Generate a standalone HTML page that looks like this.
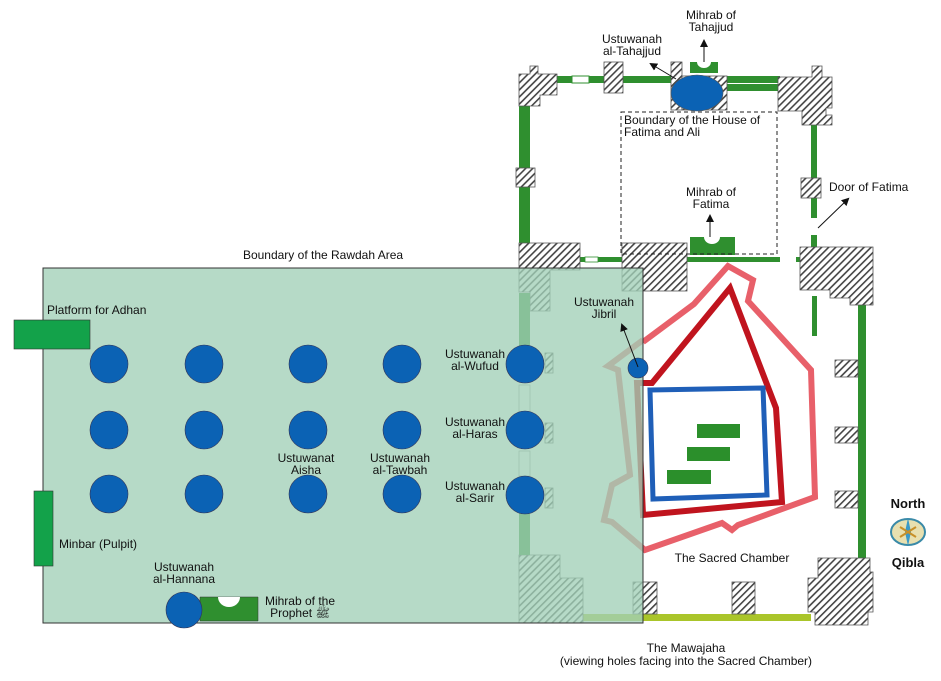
<!DOCTYPE html>
<html><head><meta charset="utf-8"><style>
html,body{margin:0;padding:0;background:#fff;}
svg{display:block;}
text{font-family:"Liberation Sans",sans-serif;font-size:12px;fill:#111;}
</style></head><body>
<svg width="941" height="681" viewBox="0 0 941 681" xmlns="http://www.w3.org/2000/svg">
<defs>
<pattern id="h" width="5" height="5" patternUnits="userSpaceOnUse" patternTransform="rotate(45)">
<rect width="5" height="5" fill="#fff"/><rect width="1.6" height="5" fill="#444"/>
</pattern>
<marker id="ar" markerWidth="8" markerHeight="8" refX="6" refY="4" orient="auto" markerUnits="userSpaceOnUse"><path d="M0,0 L8,4 L0,8 z" fill="#111"/></marker>
</defs>

<!-- top walls -->
<rect x="550" y="76" width="230" height="7" fill="#2f8f2f"/>
<rect x="572" y="76" width="17" height="7" fill="#fff" stroke="#2f8f2f" stroke-width="1"/>
<rect x="725" y="84" width="55" height="7" fill="#2f8f2f"/>
<rect x="519" y="100" width="11" height="150" fill="#2f8f2f"/>
<rect x="811" y="120" width="6" height="130" fill="#2f8f2f"/>
<rect x="811" y="218" width="6" height="17" fill="#fff"/>
<rect x="580" y="257" width="200" height="5" fill="#2f8f2f"/>
<rect x="585" y="257" width="13" height="5" fill="#fff" stroke="#2f8f2f" stroke-width="0.8"/>
<rect x="796" y="257" width="5" height="5" fill="#2f8f2f"/>
<rect x="858" y="305" width="8" height="256" fill="#2f8f2f"/>
<rect x="812" y="296" width="5" height="40" fill="#2f8f2f"/>
<rect x="583" y="614" width="228" height="7" fill="#aac52a"/>

<!-- hatched masonry -->
<g fill="url(#h)" stroke="#555" stroke-width="0.8">
<path d="M519,74 H530 V66 H538 V74 H557 V95 H540 V106 H519 Z"/>
<rect x="604" y="62" width="19" height="31"/>
<rect x="671" y="62" width="11" height="48"/>
<rect x="682" y="76" width="45" height="34"/>
<path d="M778,77 H812 V66 H822 V77 H832 V108 H826 V115 H832 V125 H802 V111 H778 Z"/>
<rect x="516" y="168" width="19" height="19"/>
<rect x="801" y="178" width="20" height="20"/>
<path d="M519,243 H580 V270 H550 V311 H530 V292 H519 Z"/>
<rect x="622" y="243" width="65" height="48"/>
<path d="M800,247 H873 V305 H850 V298 H830 V290 H800 Z"/>
<rect x="545" y="353" width="8" height="20"/>
<rect x="545" y="423" width="8" height="20"/>
<rect x="545" y="488" width="8" height="20"/>
<rect x="835" y="360" width="23" height="17"/>
<rect x="835" y="427" width="23" height="16"/>
<rect x="835" y="491" width="23" height="17"/>
<path d="M519,555 H560 V578 H583 V623 H519 Z"/>
<rect x="633" y="582" width="24" height="32"/>
<rect x="732" y="582" width="23" height="32"/>
<path d="M818,558 H870 V572 H873 V612 H868 V625 H815 V612 H808 V578 H818 Z"/>
</g>
<rect x="519" y="293" width="11" height="60" fill="#2f8f2f"/>
<rect x="519" y="508" width="11" height="47" fill="#2f8f2f"/>
<rect x="519" y="385" width="11" height="27" fill="#fff" stroke="#777" stroke-width="0.6"/>
<rect x="519" y="451" width="11" height="25" fill="#fff" stroke="#777" stroke-width="0.6"/>

<!-- mihrabs -->
<path d="M690,62 H718 V73 H690 Z M697,62 A7,6 0 0 0 711,62 Z" fill="#2f8f2f" fill-rule="evenodd"/>
<ellipse cx="697" cy="93" rx="26" ry="18" fill="#0b62b4" stroke="#555" stroke-width="0.6"/>
<path d="M690,237 H735 V255 H690 Z M704,237 A8,7 0 0 0 720,237 Z" fill="#2f8f2f" fill-rule="evenodd"/>
<rect x="621" y="112" width="156" height="142" fill="none" stroke="#222" stroke-width="1" stroke-dasharray="4,3"/>

<!-- sacred chamber -->
<polyline points="643,342 694,304 728,266 753,280 748,301 811,370 815,497 738,525 732,530 722,523 645,550 612,522 604,520 612,485 630,475 618,370 608,366 643,340" fill="none" stroke="#e8606a" stroke-width="6" stroke-linejoin="miter"/>
<polygon points="730,288 776,408 782,502 643,515 637,383 652,383" fill="none" stroke="#c0141e" stroke-width="6"/>
<polygon points="650,390 763,388 767,495 653,499" fill="none" stroke="#1f5fb8" stroke-width="5"/>
<rect x="697" y="424" width="43" height="14" fill="#2b8f2b"/>
<rect x="687" y="447" width="43" height="14" fill="#2b8f2b"/>
<rect x="667" y="470" width="44" height="14" fill="#2b8f2b"/>

<!-- rawdah overlay -->
<rect x="43" y="268" width="600" height="355" fill="rgba(162,208,183,0.78)" stroke="#333" stroke-width="1"/>

<!-- platforms -->
<rect x="14" y="320" width="76" height="29" fill="#13a24a" stroke="#333" stroke-width="0.6"/>
<rect x="34" y="491" width="19" height="75" fill="#13a24a" stroke="#333" stroke-width="0.6"/>
<path d="M200,597 H258 V621 H200 Z" fill="#2f8f2f" stroke="#333" stroke-width="0.5"/>
<path d="M218,597 A11,10 0 0 0 240,597 Z" fill="#fff"/>

<!-- columns -->
<g fill="#0b62b4" stroke="#335" stroke-width="0.6">
<circle cx="109" cy="364" r="19"/><circle cx="204" cy="364" r="19"/><circle cx="308" cy="364" r="19"/><circle cx="402" cy="364" r="19"/>
<circle cx="109" cy="430" r="19"/><circle cx="204" cy="430" r="19"/><circle cx="308" cy="430" r="19"/><circle cx="402" cy="430" r="19"/>
<circle cx="109" cy="494" r="19"/><circle cx="204" cy="494" r="19"/><circle cx="308" cy="494" r="19"/><circle cx="402" cy="494" r="19"/>
<circle cx="525" cy="364" r="19"/><circle cx="525" cy="430" r="19"/><circle cx="525" cy="495" r="19"/>
<circle cx="184" cy="610" r="18"/>
<circle cx="638" cy="368" r="10"/>
</g>

<!-- arrows -->
<g stroke="#111" stroke-width="1" fill="none">
<line x1="704" y1="62" x2="704" y2="41" marker-end="url(#ar)"/>
<line x1="676" y1="79" x2="651" y2="64" marker-end="url(#ar)"/>
<line x1="710" y1="237" x2="710" y2="216" marker-end="url(#ar)"/>
<line x1="818" y1="228" x2="848" y2="199" marker-end="url(#ar)"/>
<line x1="638" y1="367" x2="622" y2="325" marker-end="url(#ar)"/>
</g>

<!-- compass -->
<g transform="translate(908,532)">
<ellipse cx="0" cy="0" rx="17" ry="13" fill="#e8e0b0" stroke="#3a8aa8" stroke-width="2"/>
<path d="M0,-14 L3,0 L0,14 L-3,0 Z" fill="#3a9ac8"/>
<path d="M-8,-5 L8,5 M8,-5 L-8,5" stroke="#c89028" stroke-width="2"/>
</g>

<!-- labels -->
<g text-anchor="middle">
<text x="711" y="19">Mihrab of</text><text x="711" y="31">Tahajjud</text>
<text x="632" y="43">Ustuwanah</text><text x="632" y="55">al-Tahajjud</text>
<text x="711" y="196">Mihrab of</text><text x="711" y="208">Fatima</text>
<text x="323" y="259">Boundary of the Rawdah Area</text>
<text x="604" y="306">Ustuwanah</text><text x="604" y="318">Jibril</text>
<text x="475" y="358">Ustuwanah</text><text x="475" y="370">al-Wufud</text>
<text x="475" y="426">Ustuwanah</text><text x="475" y="438">al-Haras</text>
<text x="475" y="490">Ustuwanah</text><text x="475" y="502">al-Sarir</text>
<text x="306" y="462">Ustuwanat</text><text x="306" y="474">Aisha</text>
<text x="400" y="462">Ustuwanah</text><text x="400" y="474">al-Tawbah</text>
<text x="184" y="571">Ustuwanah</text><text x="184" y="583">al-Hannana</text>
<text x="300" y="605">Mihrab of the</text><text x="300" y="617">Prophet ﷺ</text>
<text x="732" y="562">The Sacred Chamber</text>
<text x="908" y="508" style="font-weight:bold;font-size:13px">North</text>
<text x="908" y="567" style="font-weight:bold;font-size:13px">Qibla</text>
<text x="686" y="652">The Mawajaha</text>
<text x="686" y="665">(viewing holes facing into the Sacred Chamber)</text>
</g>
<text x="624" y="124">Boundary of the House of</text>
<text x="624" y="136">Fatima and Ali</text>
<text x="829" y="191">Door of Fatima</text>
<text x="47" y="314">Platform for Adhan</text>
<text x="59" y="548">Minbar (Pulpit)</text>
</svg>
</body></html>
